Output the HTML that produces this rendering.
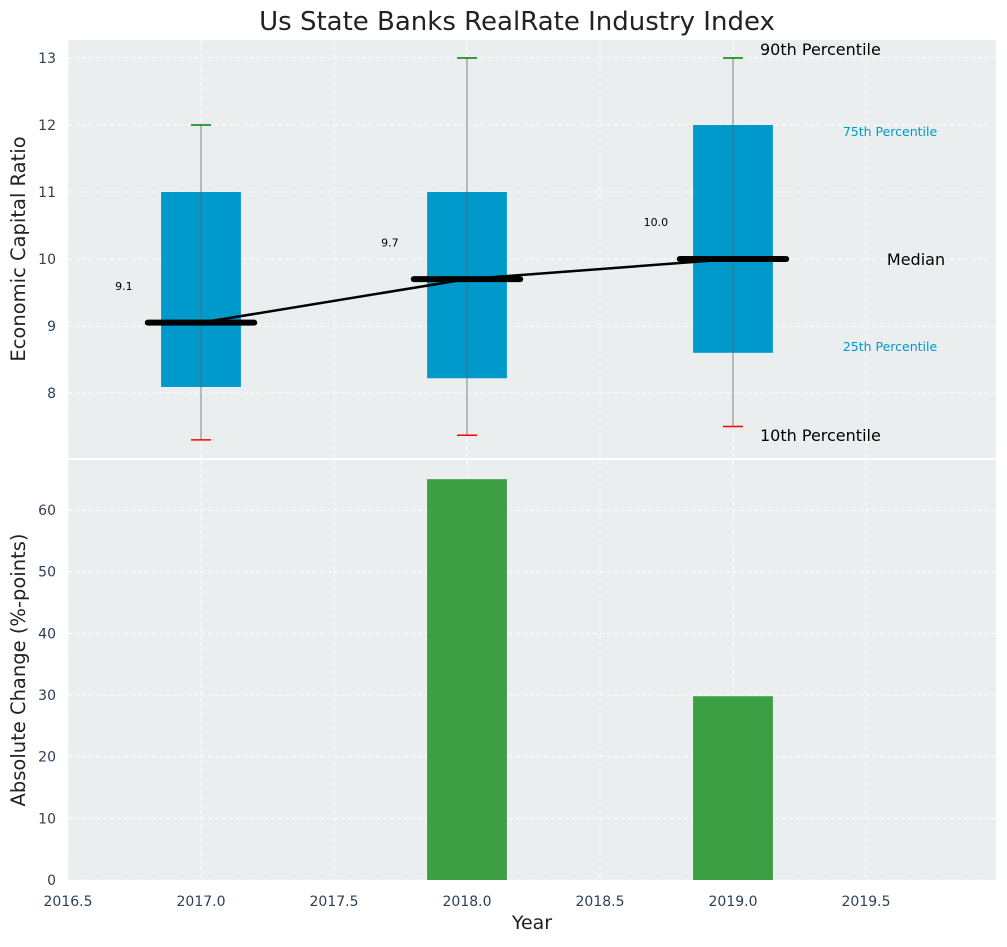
<!DOCTYPE html>
<html><head><meta charset="utf-8">
<style>
body{margin:0;background:#fff;font-family:"Liberation Sans","DejaVu Sans",sans-serif;}
svg text{font-family:"DejaVu Sans","Liberation Sans",sans-serif;}
</style></head>
<body>
<svg id="chart" width="1007" height="942" xmlns="http://www.w3.org/2000/svg"></svg>
<script>
const years=[2017,2018,2019];
const p10=[7.3,7.37,7.5];
const p25=[8.09,8.22,8.6];
const medians=[9.05,9.7,10.0];
const p75=[11,11,12];
const p90=[12,13,13];
const changes=[0,65,29.8];
const xTicks=[2016.5,2017.0,2017.5,2018.0,2018.5,2019.0,2019.5];
const yTopTicks=[8,9,10,11,12,13];
const yBotTicks=[0,10,20,30,40,50,60];

const NS="http://www.w3.org/2000/svg";
const svg=document.getElementById('chart');
function el(tag,attrs,parent){const e=document.createElementNS(NS,tag);for(const k in attrs)e.setAttribute(k,attrs[k]);(parent||svg).appendChild(e);return e;}
const L=68,R=996,T1=40,B1=458,T2=460,B2=880;
const xS=v=>L+(v-2016.5)*266;
const yT=v=>58+(13-v)*67;
const yB=v=>880-v*(370/60);

let bg=el('rect',{x:L,y:T1,width:R-L,height:B1-T1,fill:'#eaeeee'});


bg=el('rect',{x:L,y:T2,width:R-L,height:B2-T2,fill:'#eaeeee'});



xTicks.forEach(t=>{const x=xS(t);
 let g=el('line',{x1:x,x2:x,y1:T1,y2:B1,stroke:'#fff','stroke-dasharray':'4,3','stroke-width':1});
 
 
 g=el('line',{x1:x,x2:x,y1:T2,y2:B2,stroke:'#fff','stroke-dasharray':'4,3','stroke-width':1});
 
 
 const tx=el('text',{x:x,y:906,'text-anchor':'middle','font-size':14,fill:'#2e3f55'});tx.textContent=t.toFixed(1);
 
 
});
yTopTicks.forEach(t=>{const y=yT(t);
 const g=el('line',{x1:L,x2:R,y1:y,y2:y,stroke:'#fff','stroke-dasharray':'4,3'});
 
 
 const tx=el('text',{x:L-12,y:y+5,'text-anchor':'end','font-size':14,fill:'#2e3f55'});tx.textContent=t;
 
 
});
yBotTicks.forEach(t=>{const y=yB(t);
 const g=el('line',{x1:L,x2:R,y1:y,y2:y,stroke:'#fff','stroke-dasharray':'4,3'});
 
 
 const tx=el('text',{x:L-12,y:y+5,'text-anchor':'end','font-size':14,fill:'#2e3f55'});tx.textContent=t;
 
 
});

const bw=0.3*266, mw=0.4*266;
years.forEach((yr,i)=>{const cx=xS(yr);
 let b=el('rect',{x:cx-bw/2,y:yT(p75[i]),width:bw,height:yT(p25[i])-yT(p75[i]),fill:'#0099cc'});
 
 
 b=el('line',{x1:cx,x2:cx,y1:yT(p90[i]),y2:yT(p10[i]),stroke:'#666','stroke-width':1,opacity:0.8});
 
 
 b=el('line',{x1:cx-10,x2:cx+10,y1:yT(p90[i]),y2:yT(p90[i]),stroke:'green','stroke-width':1.5});
 
 
 b=el('line',{x1:cx-10,x2:cx+10,y1:yT(p10[i]),y2:yT(p10[i]),stroke:'red','stroke-width':1.5});
 
 
});
const pts=years.map((yr,i)=>xS(yr)+','+yT(medians[i])).join(' ');
let ml=el('polyline',{points:pts,fill:'none',stroke:'#000','stroke-width':2.5});


years.forEach((yr,i)=>{const cx=xS(yr);
 let m=el('line',{x1:cx-mw/2,x2:cx+mw/2,y1:yT(medians[i]),y2:yT(medians[i]),stroke:'#000','stroke-width':6,'stroke-linecap':'round'});
 
 
 const t=el('text',{x:xS(yr-0.29),y:yT(medians[i]+0.55)+4,'text-anchor':'middle','font-size':11,fill:'#000'});t.textContent=medians[i].toFixed(1);
 
 
});
function lab(txt,x,y,size,color,anchor,name){const t=el('text',{x:x,y:y,'font-size':size,fill:color,'text-anchor':anchor});t.textContent=txt;
 
 }
lab('90th Percentile',760,55,16,'#000','start','p90-label');
lab('75th Percentile',890,136,12.5,'#0099cc','middle','p75-label');
lab('Median',916,265,16,'#000','middle','median-label');
lab('25th Percentile',890,351,12.5,'#0099cc','middle','p25-label');
lab('10th Percentile',760,441,16,'#000','start','p10-label');

years.forEach((yr,i)=>{const cx=xS(yr);
 const r=el('rect',{x:cx-bw/2,y:yB(changes[i]),width:bw,height:yB(0)-yB(changes[i]),fill:'#2a9631',opacity:0.9});
 
 
});

let s=el('line',{x1:L,x2:R,y1:459,y2:459,stroke:'#fff','stroke-width':2});



lab('Us State Banks RealRate Industry Index',517,30,26,'#222','middle','chart-title');
lab('Year',532,929,19,'#222','middle','x-axis-title');
let yt=el('text',{x:25,y:249,'font-size':19.5,fill:'#222','text-anchor':'middle',transform:'rotate(-90 25 249)'});yt.textContent='Economic Capital Ratio';


yt=el('text',{x:25,y:670,'font-size':19.5,fill:'#222','text-anchor':'middle',transform:'rotate(-90 25 670)'});yt.textContent='Absolute Change (%-points)';


</script>
</body></html>
